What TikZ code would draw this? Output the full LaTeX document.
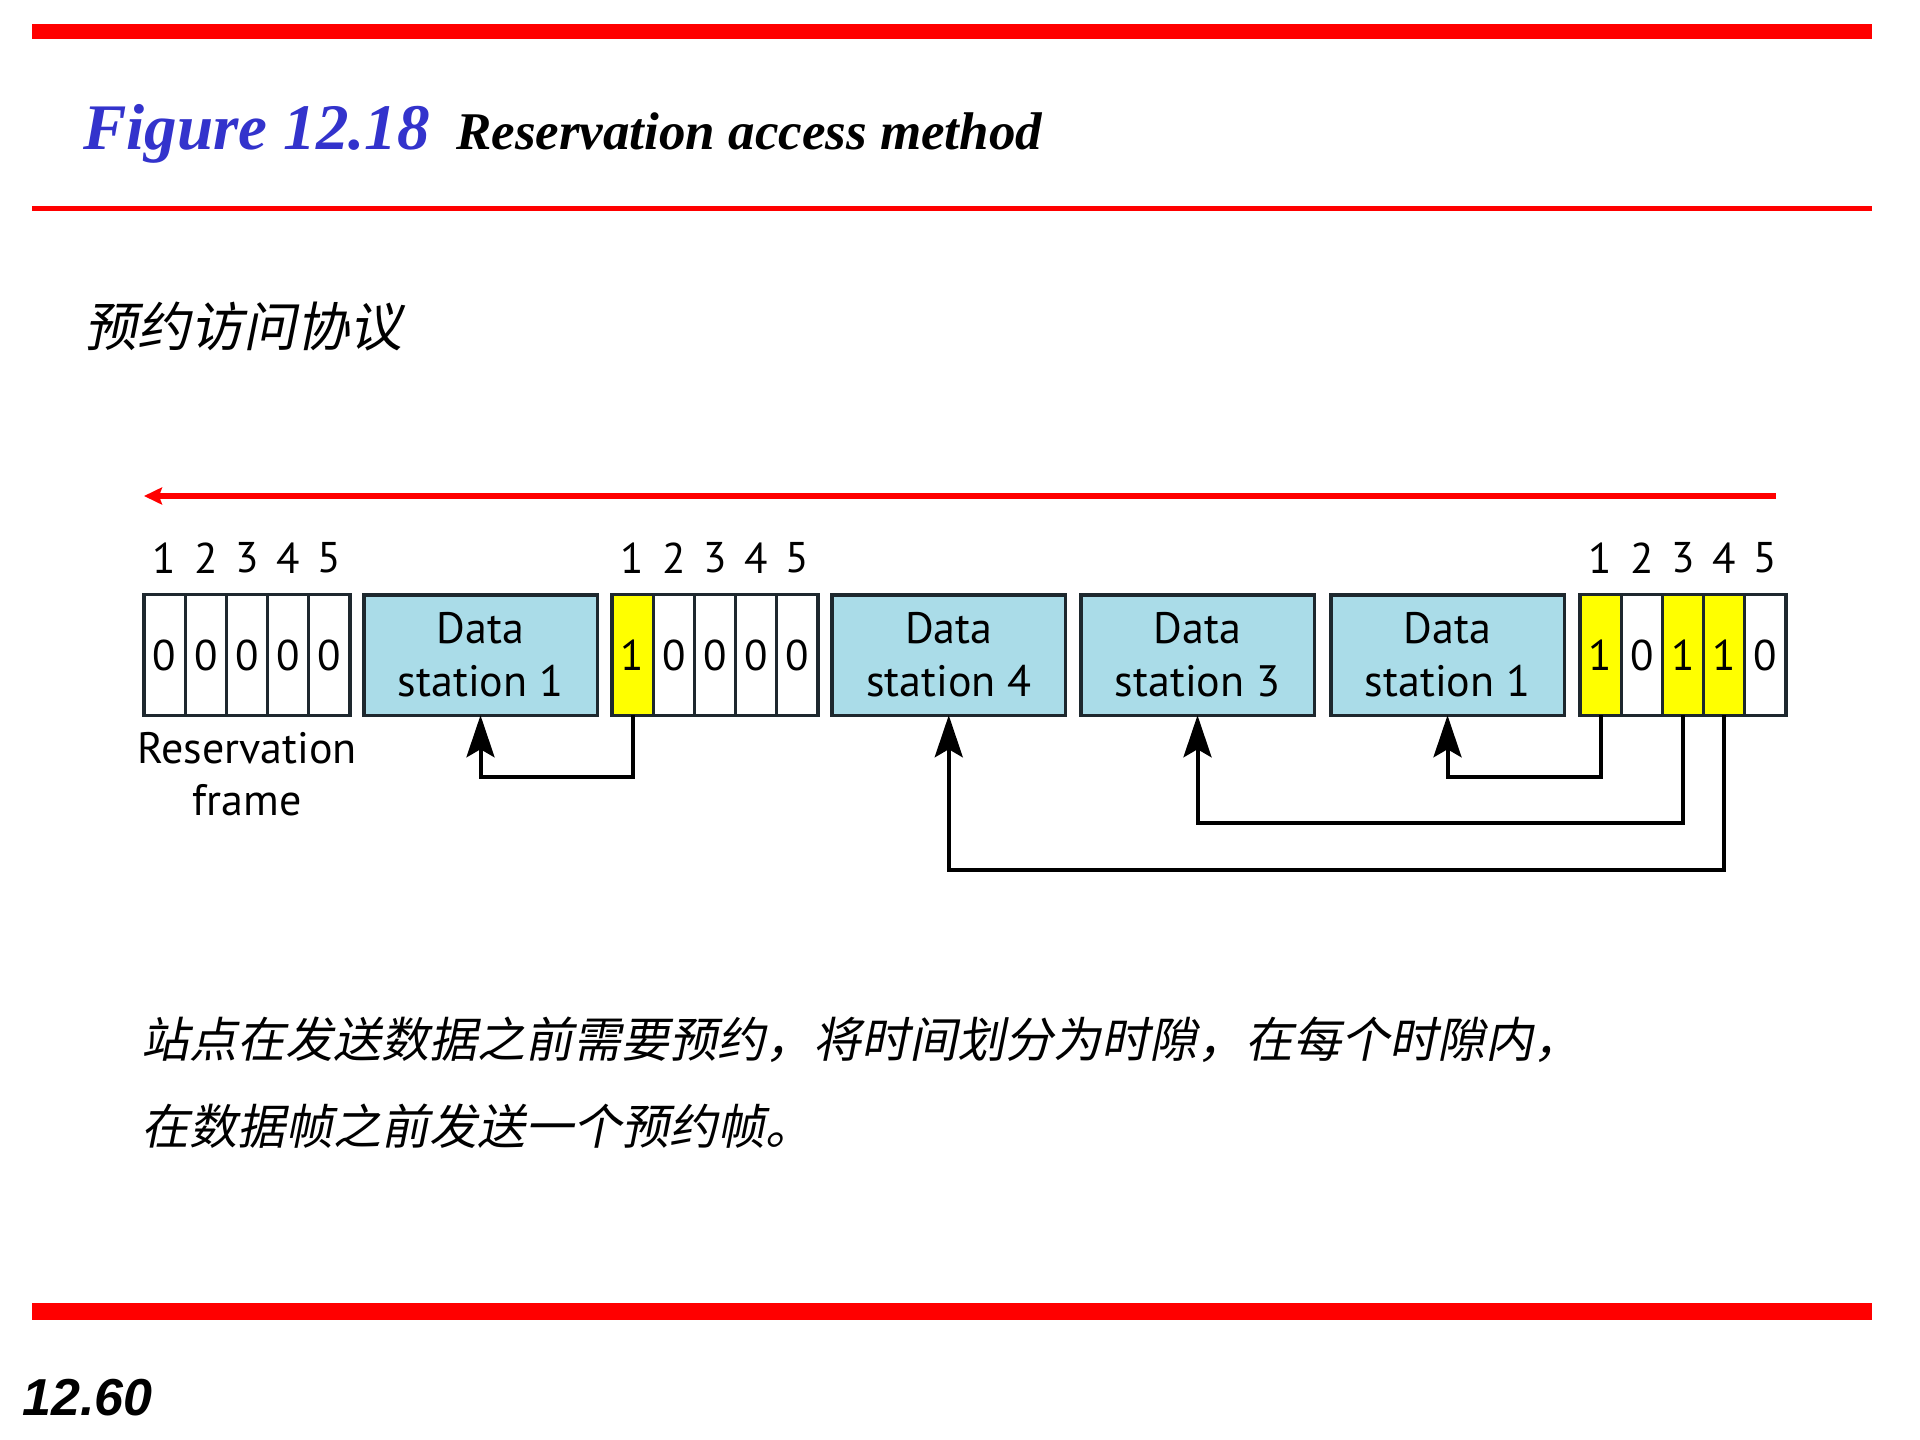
\documentclass[tikz,border=0pt]{standalone}
\usepackage{fontspec}
\setmainfont{Liberation Serif}
\newfontfamily\ptsans{PT Sans}
\newfontfamily\cjk[FakeSlant=0.2]{Noto Sans CJK SC}
\newfontfamily\arialf{Liberation Sans}
\usetikzlibrary{arrows.meta}
\definecolor{figblue}{RGB}{51,51,204}
\definecolor{boxblue}{RGB}{170,220,232}
\definecolor{boxline}{RGB}{30,40,46}
\definecolor{cellyellow}{RGB}{255,255,0}
\definecolor{barred}{RGB}{255,0,0}
\tikzset{
  cellbox/.style={draw=boxline, line width=3.3pt, minimum width=41.2pt, minimum height=120.5pt,
    inner sep=0pt, outer sep=0pt, font=\ptsans\fontsize{43}{52}\selectfont},
  wcell/.style={cellbox, fill=white},
  ycell/.style={cellbox, fill=cellyellow},
  databox/.style={draw=boxline, fill=boxblue, line width=3.5pt, minimum width=233.5pt,
    minimum height=120.5pt, inner sep=0pt, outer sep=0pt, align=center,
    font=\ptsans\fontsize{44}{53}\selectfont},
  numlab/.style={inner sep=0pt, font=\ptsans\fontsize{43}{52}\selectfont},
  conn/.style={draw=black, line width=4pt, -{Stealth[length=42pt,width=28pt,inset=8pt]}},
  timearrow/.style={draw=barred, line width=6pt, -{Stealth[length=18pt,width=17pt,inset=3pt]}},
  cjktext/.style={anchor=base west, inner sep=0pt},
}
\begin{document}
\begin{tikzpicture}[x=1pt,y=-1pt]
\useasboundingbox[fill=white] (0,0) rectangle (1920,1440);

% red bars
\fill[barred] (32,24) rectangle (1872,39);
\fill[barred] (32,206) rectangle (1872,210.5);
\fill[barred] (32,1303) rectangle (1872,1320);

% title
\node[anchor=base west, inner sep=0pt, text=figblue,
  font=\fontsize{65}{78}\selectfont\bfseries\itshape] (fig) at (83,149.3) {Figure 12.18};
\node[anchor=base west, inner sep=0pt,
  font=\fontsize{53}{64}\selectfont\bfseries\itshape] (ttl) at (456,149.3) {Reservation access method};

% heading
\node[cjktext, font=\cjk\fontsize{53}{64}\selectfont] (head) at (84,346) {预约访问协议};

% time arrow
\coordinate (arrR) at (1776,496);
\coordinate (arrL) at (144,496);
\draw[timearrow] (arrR) -- (arrL);

% frame 1
\foreach \i/\v/\s in {1/0/wcell,2/0/wcell,3/0/wcell,4/0/wcell,5/0/wcell}{
  \node[\s] (f1c\i) at ({144+20.6+(\i-1)*41.2},655) {\v};
  \node[numlab] (f1n\i) at ({144+20.6+(\i-1)*41.2},558) {\i};
}
% frame 2
\foreach \i/\v/\s in {1/1/ycell,2/0/wcell,3/0/wcell,4/0/wcell,5/0/wcell}{
  \node[\s] (f2c\i) at ({612+20.6+(\i-1)*41.2},655) {\v};
  \node[numlab] (f2n\i) at ({612+20.6+(\i-1)*41.2},558) {\i};
}
% frame 3
\foreach \i/\v/\s in {1/1/ycell,2/0/wcell,3/1/ycell,4/1/ycell,5/0/wcell}{
  \node[\s] (f3c\i) at ({1580+20.6+(\i-1)*41.2},655) {\v};
  \node[numlab] (f3n\i) at ({1580+20.6+(\i-1)*41.2},558) {\i};
}

% data boxes
\node[databox] (ds1a) at (480.5,655) {Data\\station 1};
\node[databox] (ds4) at (948.75,655) {Data\\station 4};
\node[databox] (ds3) at (1197.5,655) {Data\\station 3};
\node[databox] (ds1b) at (1447.5,655) {Data\\station 1};

% reservation frame label
\node[inner sep=0pt, anchor=north, align=center, font=\ptsans\fontsize{44}{52}\selectfont]
  (resv) at (247,732) {Reservation\\frame};

% connectors
\draw[conn] (f2c1.south) -- ++(0,61.5) -| (ds1a.south);
\draw[conn] (f3c1.south) -- ++(0,61.5) -| (ds1b.south);
\draw[conn] (f3c3.south) -- ++(0,108) -| (ds3.south);
\draw[conn] (f3c4.south) -- ++(0,155) -| (ds4.south);

% body text
\node[cjktext, font=\cjk\fontsize{48}{58}\selectfont] (para1) at (141,1057)
  {站点在发送数据之前需要预约，将时间划分为时隙，在每个时隙内，};
\node[cjktext, font=\cjk\fontsize{48}{58}\selectfont] (para2) at (141,1144)
  {在数据帧之前发送一个预约帧。};

% page number
\node[anchor=base west, inner sep=0pt, font=\arialf\bfseries\itshape\fontsize{52}{62}\selectfont]
  (pg) at (22,1415) {12.60};
\end{tikzpicture}
\end{document}
